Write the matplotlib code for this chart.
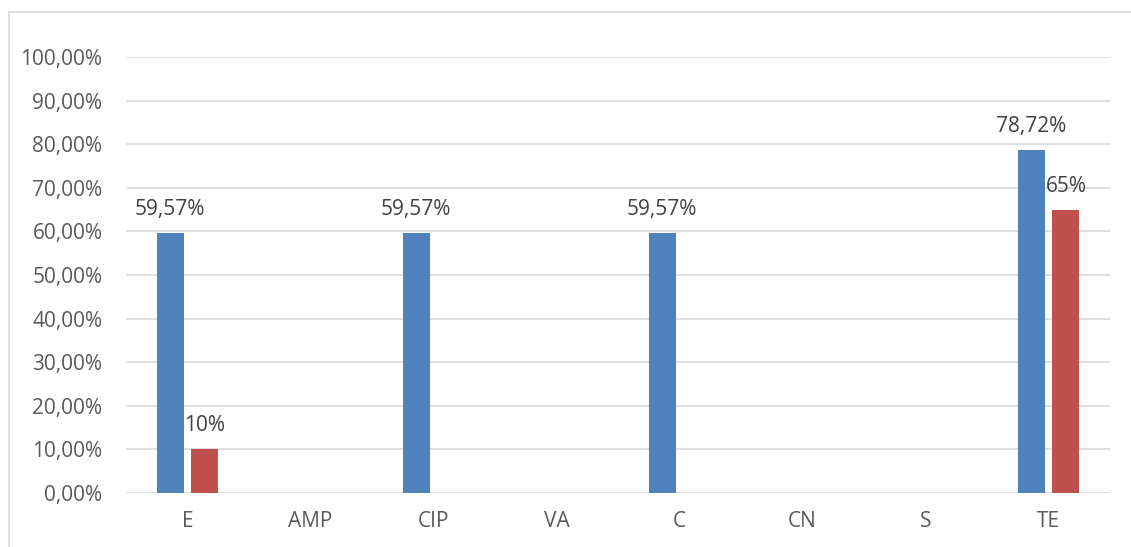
import matplotlib.pyplot as plt
import numpy as np
from matplotlib.lines import Line2D
from matplotlib.ticker import FuncFormatter

categories = ['E', 'AMP', 'CIP', 'VA', 'C', 'CN', 'S', 'TE']
blue_vals = [0.5957, 0, 0.5957, 0, 0.5957, 0, 0, 0.7872]
red_vals = [0.10, 0, 0, 0, 0, 0, 0, 0.65]
blue_labels = ['59,57%', '', '59,57%', '', '59,57%', '', '', '78,72%']
red_labels = ['10%', '', '', '', '', '', '', '65%']
yticks = [0, 0.1, 0.2, 0.3, 0.4, 0.5, 0.6, 0.7, 0.8, 0.9, 1.0]

plt.rcParams['font.family'] = ['Open Sans', 'DejaVu Sans']

fig = plt.figure(figsize=(11.31, 5.47), dpi=100)
ax = fig.add_axes([126 / 1131, 54 / 547, 984 / 1131, 436 / 547])

x = np.arange(len(categories))
w = 0.22
off = 0.142
b1 = ax.bar(x - off, blue_vals, w, color='#4F81BD')
b2 = ax.bar(x + off, red_vals, w, color='#C0504D')

for rect, lab in zip(b1, blue_labels):
    if lab:
        ax.text(rect.get_x() + rect.get_width() / 2, rect.get_height() + 0.03, lab,
                ha='center', va='bottom', fontsize=15, color='#404040')
for rect, lab in zip(b2, red_labels):
    if lab:
        ax.text(rect.get_x() + rect.get_width() / 2, rect.get_height() + 0.03, lab,
                ha='center', va='bottom', fontsize=15, color='#404040')

ax.set_xlim(-0.5, len(categories) - 0.5)
ax.set_ylim(0, 1.0)
ax.set_yticks(yticks)
ax.yaxis.set_major_formatter(FuncFormatter(lambda v, p: f'{v * 100:.2f}%'.replace('.', ',')))
ax.set_xticks(x)
ax.set_xticklabels(categories)
ax.tick_params(axis='both', length=0, labelsize=15, labelcolor='#595959')
ax.tick_params(axis='x', pad=13)
ax.tick_params(axis='y', pad=17)
ax.grid(axis='y', color='#d9d9d9', linewidth=1.2)
ax.set_axisbelow(True)
for s in ax.spines.values():
    s.set_visible(False)

# chart frame (only top and left edges visible)
fig.add_artist(Line2D([9 / 1131, 9 / 1131], [0, 1 - 12 / 547], color='#d9d9d9', lw=1.2,
                      transform=fig.transFigure))
fig.add_artist(Line2D([9 / 1131, 1], [1 - 12 / 547, 1 - 12 / 547], color='#d9d9d9', lw=1.2,
                      transform=fig.transFigure))

fig.savefig('out.png', dpi=100)
